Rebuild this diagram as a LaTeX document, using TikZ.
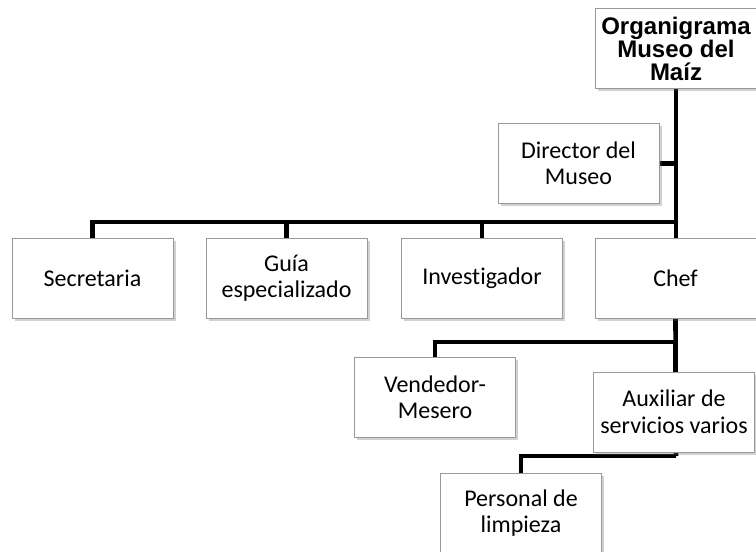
\documentclass[tikz,border=0pt]{standalone}
\usepackage{fontspec}
\setmainfont{Carlito}[Ligatures={NoCommon}]
\newfontfamily\titlefont{Liberation Sans}
\usetikzlibrary{shadows,backgrounds}
\begin{document}
\begin{tikzpicture}[x=1pt,y=-1pt,
  orgbox/.style={draw=black!40, line width=0.9pt, fill=white, rectangle,
    minimum width=161pt, minimum height=80pt, inner sep=0pt, align=center,
    font=\fontsize{24}{26.5}\selectfont,
    drop shadow={shadow xshift=2.5pt, shadow yshift=-2.5pt, opacity=0.3, fill=black!60}},
  titlebox/.style={orgbox, font=\titlefont\bfseries\fontsize{24}{23}\selectfont},
  conn/.style={line width=4.6pt, black}]
\useasboundingbox (0,0) rectangle (756,552);
\node[titlebox] (title) at (676,48.5) {Organigrama\\Museo del\\Maíz};
\node[orgbox] (dir) at (578.5,163.5) {Director del\\Museo};
\node[orgbox] (sec) at (92.5,278) {Secretaria};
\node[orgbox] (guia) at (286.5,278) {Guía\\especializado};
\node[orgbox] (inv) at (482,278) {Investigador};
\node[orgbox] (chef) at (675.5,278) {Chef};
\node[orgbox] (vend) at (435,397.5) {Vendedor-\\Mesero};
\node[orgbox] (aux) at (674,412) {Auxiliar de\\servicios varios};
\node[orgbox] (pers) at (521,513) {Personal de\\limpieza};
\coordinate (j1) at (676,222);
\coordinate (j2) at (675.5,342);
\coordinate (j3) at (676,456);
\begin{scope}[on background layer]
\draw[conn] (title.south -| j1) -- (j1 |- chef.north);
\draw[conn] (dir.east) -- (dir.east -| j1);
\draw[conn] (j1) -| (sec.north);
\draw[conn] (j1 -| guia.north) -- (guia.north);
\draw[conn] (j1 -| inv.north) -- (inv.north);
\draw[conn] (chef.south) -- (j3);
\draw[conn] (j2) -| (vend.north);
\draw[conn] (j2) -- (j2 |- aux.north);
\draw[conn] (j3) -| (pers.north);
\end{scope}
\end{tikzpicture}
\end{document}
